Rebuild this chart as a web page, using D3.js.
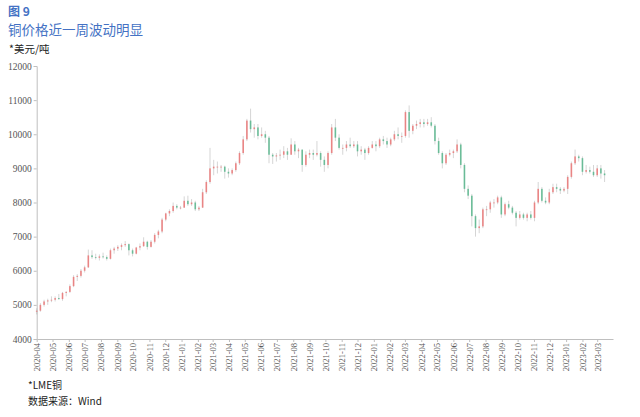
<!DOCTYPE html>
<html><head><meta charset="utf-8">
<script src="https://cdn.jsdelivr.net/npm/d3@7"></script>
<style>
html,body{margin:0;padding:0;background:#fff;}
svg{display:block;}
</style></head>
<body>
<svg id="chart" width="640" height="417"></svg>
<script>
// Weekly candles (week starting Monday), LME copper, USD/t
const weeks = [
"2020-03-30","2020-04-06","2020-04-13","2020-04-20","2020-04-27","2020-05-04","2020-05-11","2020-05-18","2020-05-25",
"2020-06-01","2020-06-08","2020-06-15","2020-06-22","2020-06-29","2020-07-06","2020-07-13","2020-07-20","2020-07-27",
"2020-08-03","2020-08-10","2020-08-17","2020-08-24","2020-08-31","2020-09-07","2020-09-14","2020-09-21","2020-09-28",
"2020-10-05","2020-10-12","2020-10-19","2020-10-26","2020-11-02","2020-11-09","2020-11-16","2020-11-23","2020-11-30",
"2020-12-07","2020-12-14","2020-12-21","2020-12-28",
"2021-01-04","2021-01-11","2021-01-18","2021-01-25","2021-02-01","2021-02-08","2021-02-15","2021-02-22",
"2021-03-01","2021-03-08","2021-03-15","2021-03-22","2021-03-29","2021-04-05","2021-04-12","2021-04-19","2021-04-26",
"2021-05-03","2021-05-10","2021-05-17","2021-05-24","2021-05-31","2021-06-07","2021-06-14","2021-06-21","2021-06-28",
"2021-07-05","2021-07-12","2021-07-19","2021-07-26","2021-08-02","2021-08-09","2021-08-16","2021-08-23","2021-08-30",
"2021-09-06","2021-09-13","2021-09-20","2021-09-27","2021-10-04","2021-10-11","2021-10-18","2021-10-25",
"2021-11-01","2021-11-08","2021-11-15","2021-11-22","2021-11-29","2021-12-06","2021-12-13","2021-12-20","2021-12-27",
"2022-01-03","2022-01-10","2022-01-17","2022-01-24","2022-01-31","2022-02-07","2022-02-14","2022-02-21","2022-02-28",
"2022-03-07","2022-03-14","2022-03-21","2022-03-28","2022-04-04","2022-04-11","2022-04-18","2022-04-25",
"2022-05-02","2022-05-09","2022-05-16","2022-05-23","2022-05-30","2022-06-06","2022-06-13","2022-06-20","2022-06-27",
"2022-07-04","2022-07-11","2022-07-18","2022-07-25","2022-08-01","2022-08-08","2022-08-15","2022-08-22","2022-08-29",
"2022-09-05","2022-09-12","2022-09-19","2022-09-26","2022-10-03","2022-10-10","2022-10-17","2022-10-24","2022-10-31",
"2022-11-07","2022-11-14","2022-11-21","2022-11-28","2022-12-05","2022-12-12","2022-12-19","2022-12-26",
"2023-01-02","2023-01-09","2023-01-16","2023-01-23","2023-01-30","2023-02-06","2023-02-13","2023-02-20","2023-02-27",
"2023-03-06","2023-03-13"];

const open = [
4800,4830,5000,5100,5130,5150,5200,5170,5350,
5380,5550,5820,5850,6000,6100,6450,6400,6380,
6420,6400,6350,6600,6650,6700,6750,6780,6600,
6500,6680,6720,6850,6700,6850,7050,7150,7500,
7680,7750,7900,7850,
7850,8050,7950,8000,7800,7850,8300,8600,
9000,9050,9050,9050,8900,8850,8950,9150,9450,
9850,10400,10150,10200,9950,10000,9900,9400,9350,
9380,9400,9500,9400,9700,9500,9550,9100,9400,
9450,9400,9450,9250,9100,9450,10200,9900,
9600,9600,9700,9650,9700,9500,9550,9450,9600,
9700,9650,9850,9800,9700,9850,10000,9950,9950,
10650,10100,10250,10300,10350,10300,10350,10250,
9800,9450,9150,9400,9450,9500,9700,9100,8400,
8200,7600,7250,7300,7800,7800,8000,8000,8150,
7650,7950,7850,7700,7550,7650,7550,7650,7550,
8000,8400,8050,8000,8300,8450,8400,8350,
8400,8750,9150,9350,9300,8900,8950,8900,8800,
9000,8850];

const high = [
4900,5050,5150,5180,5250,5250,5320,5380,5400,
5600,5870,5900,6050,6150,6620,6600,6500,6480,
6530,6450,6650,6700,6750,6800,6870,6800,6650,
6700,6800,6980,6880,6900,7100,7200,7550,7700,
7800,8000,7950,7900,
8180,8200,8100,8050,7900,8400,8650,9600,
9250,9200,9100,9080,9000,9000,9200,9500,9950,
10450,10750,10300,10300,10200,10100,9950,9450,9450,
9550,9650,9600,9880,9800,9600,9550,9500,9550,
9550,9800,9500,9350,9500,10300,10450,10000,
9700,9800,9900,9800,9800,9650,9600,9650,9800,
9800,9900,9950,9900,9900,10100,10200,10050,10700,
10845,10300,10400,10450,10450,10450,10500,10300,
9900,9500,9450,9550,9550,9850,9750,9150,8500,
8250,7650,7500,7850,7900,8050,8100,8200,8200,
8000,8050,7900,7750,7750,7700,7700,7750,8050,
8600,8450,8150,8400,8550,8550,8450,8450,
8800,9200,9550,9400,9350,9100,9050,9100,9100,
9100,8950];

const low = [
4720,4800,4950,5000,5080,5100,5150,5120,5250,
5350,5520,5700,5800,5950,6080,6350,6330,6300,
6360,6300,6330,6500,6580,6600,6700,6450,6420,
6480,6600,6700,6620,6680,6800,6950,7100,7450,
7600,7700,7800,7800,
7840,7900,7900,7750,7750,7840,8250,8550,
8800,8850,8900,8700,8730,8800,8900,9100,9400,
9800,10050,9900,9850,9900,9750,9150,9130,9200,
9250,9300,9250,9400,9400,9300,8900,9050,9300,
9250,9350,9050,8900,9000,9400,9800,9550,
9400,9500,9600,9600,9350,9400,9250,9400,9580,
9500,9600,9700,9600,9650,9800,9850,9750,9900,
9900,10000,10150,10200,10200,10250,10200,9700,
9400,9000,9100,9350,9300,9450,9000,8300,8100,
7300,7000,7100,7250,7600,7700,7850,7950,7550,
7600,7800,7650,7300,7500,7500,7450,7500,7450,
7950,8000,7950,7950,8250,8300,8250,8300,
8250,8700,9100,9200,8800,8850,8850,8750,8750,
8700,8600];

const close = [
4830,5000,5100,5130,5150,5200,5170,5350,5380,
5550,5820,5850,6000,6100,6450,6400,6380,6420,
6400,6350,6600,6650,6700,6750,6780,6600,6500,
6680,6720,6850,6700,6850,7050,7150,7500,7680,
7750,7900,7850,7850,
8050,7950,8000,7800,7850,8300,8600,9000,
9050,9050,9050,8900,8850,8950,9150,9450,9850,
10400,10150,10200,9950,10000,9900,9400,9350,9380,
9400,9500,9400,9700,9500,9550,9100,9400,9450,
9400,9450,9250,9100,9450,10200,9900,9600,
9600,9700,9650,9700,9500,9550,9450,9600,9700,
9650,9850,9800,9700,9850,10000,9950,9950,10650,
10100,10250,10300,10350,10300,10350,10250,9800,
9450,9150,9400,9450,9500,9700,9100,8400,8200,
7600,7250,7300,7800,7800,8000,8000,8150,7650,
7950,7850,7700,7550,7650,7550,7650,7550,8000,
8400,8050,8000,8300,8450,8400,8350,8400,
8750,9150,9350,9300,8900,8950,8900,8800,9000,
8850,8800];

const yTicks = [4000,5000,6000,7000,8000,9000,10000,11000,12000];
const monthTicks = [
"2020-04","2020-05","2020-06","2020-07","2020-08","2020-09","2020-10","2020-11","2020-12",
"2021-01","2021-02","2021-03","2021-04","2021-05","2021-06","2021-07","2021-08","2021-09","2021-10","2021-11","2021-12",
"2022-01","2022-02","2022-03","2022-04","2022-05","2022-06","2022-07","2022-08","2022-09","2022-10","2022-11","2022-12",
"2023-01","2023-02","2023-03"];

const titleNo = "图 9";
const titleText = "铜价格近一周波动明显";
const unitText = "*美元/吨";
const noteText = "*LME铜";
const sourceText = "数据来源：Wind";

const svg = d3.select("#chart");
const parseDay = d3.utcParse("%Y-%m-%d");
const parseMonth = d3.utcParse("%Y-%m");

const x = d3.scaleUtc()
  .domain([parseDay("2020-04-01"), parseDay("2023-03-31")])
  .range([36.7, 613]);
const y = d3.scaleLinear().domain([4000, 12000]).range([339, 66]);

const cjk = "'Noto Sans CJK SC','Noto Sans',sans-serif";
const blue = "#4472c4";

svg.append("text").attr("x", 8).attr("y", 15.5).attr("font-family", cjk)
  .attr("font-size", 12).attr("font-weight", "bold").attr("fill", blue).text(titleNo);
svg.append("text").attr("x", 8).attr("y", 34.5).attr("font-family", cjk)
  .attr("font-size", 13.5).attr("fill", blue).text(titleText);
svg.append("text").attr("x", 9).attr("y", 53).attr("font-family", cjk)
  .attr("font-size", 10.5).attr("fill", "#222").text(unitText);

// Y axis
const yAxis = svg.append("g").attr("transform", "translate(36.7,0)")
  .call(d3.axisLeft(y).tickValues(yTicks).tickSize(3).tickFormat(d3.format("d")));
yAxis.select(".domain").attr("stroke", "#bfbfbf");
yAxis.selectAll(".tick line").attr("stroke", "#bfbfbf");
yAxis.selectAll("text").attr("font-family", "'Liberation Serif','DejaVu Serif',serif")
  .attr("font-size", 9.5).attr("fill", "#555").attr("x", -5);

// X axis
const xAxis = svg.append("g").attr("transform", "translate(0,339)")
  .call(d3.axisBottom(x).tickValues(monthTicks.map(parseMonth)).tickSize(3)
    .tickSizeOuter(0).tickFormat(d3.utcFormat("%Y-%m")));
xAxis.select(".domain").attr("stroke", "#bfbfbf");
xAxis.selectAll(".tick line").attr("stroke", "#bfbfbf");
xAxis.selectAll("text")
  .attr("font-family", "'Liberation Serif','DejaVu Serif',serif")
  .attr("font-size", 8.5).attr("fill", "#555")
  .attr("text-anchor", "end")
  .attr("transform", "rotate(-90)")
  .attr("x", -4).attr("y", 0).attr("dy", "0.33em");

// Candles
const data = weeks.map((w, i) => ({
  d: d3.utcDay.offset(parseDay(w), 2),
  o: open[i], h: high[i], l: low[i], c: close[i]
}));
const upC = "#ec6f6f", downC = "#4fb487";
const bw = 1.6;
const g = svg.append("g");
g.selectAll("line.wick").data(data).join("line")
  .attr("x1", d => x(d.d)).attr("x2", d => x(d.d))
  .attr("y1", d => y(d.h)).attr("y2", d => y(d.l))
  .attr("stroke", "#9a9a9a")
  .attr("stroke-opacity", 0.6).attr("stroke-width", 0.7);
g.selectAll("rect.body").data(data).join("rect")
  .attr("x", d => x(d.d) - bw / 2).attr("width", bw)
  .attr("y", d => y(Math.max(d.o, d.c)))
  .attr("height", d => Math.max(0.8, Math.abs(y(d.o) - y(d.c))))
  .attr("fill", d => d.c >= d.o ? upC : downC)
  .attr("fill-opacity", 0.8);

svg.append("text").attr("x", 28).attr("y", 389).attr("font-family", cjk)
  .attr("font-size", 10).attr("fill", "#222").text(noteText);
svg.append("text").attr("x", 28).attr("y", 405).attr("font-family", cjk)
  .attr("font-size", 10).attr("fill", "#222").text(sourceText);
</script>
</body></html>
